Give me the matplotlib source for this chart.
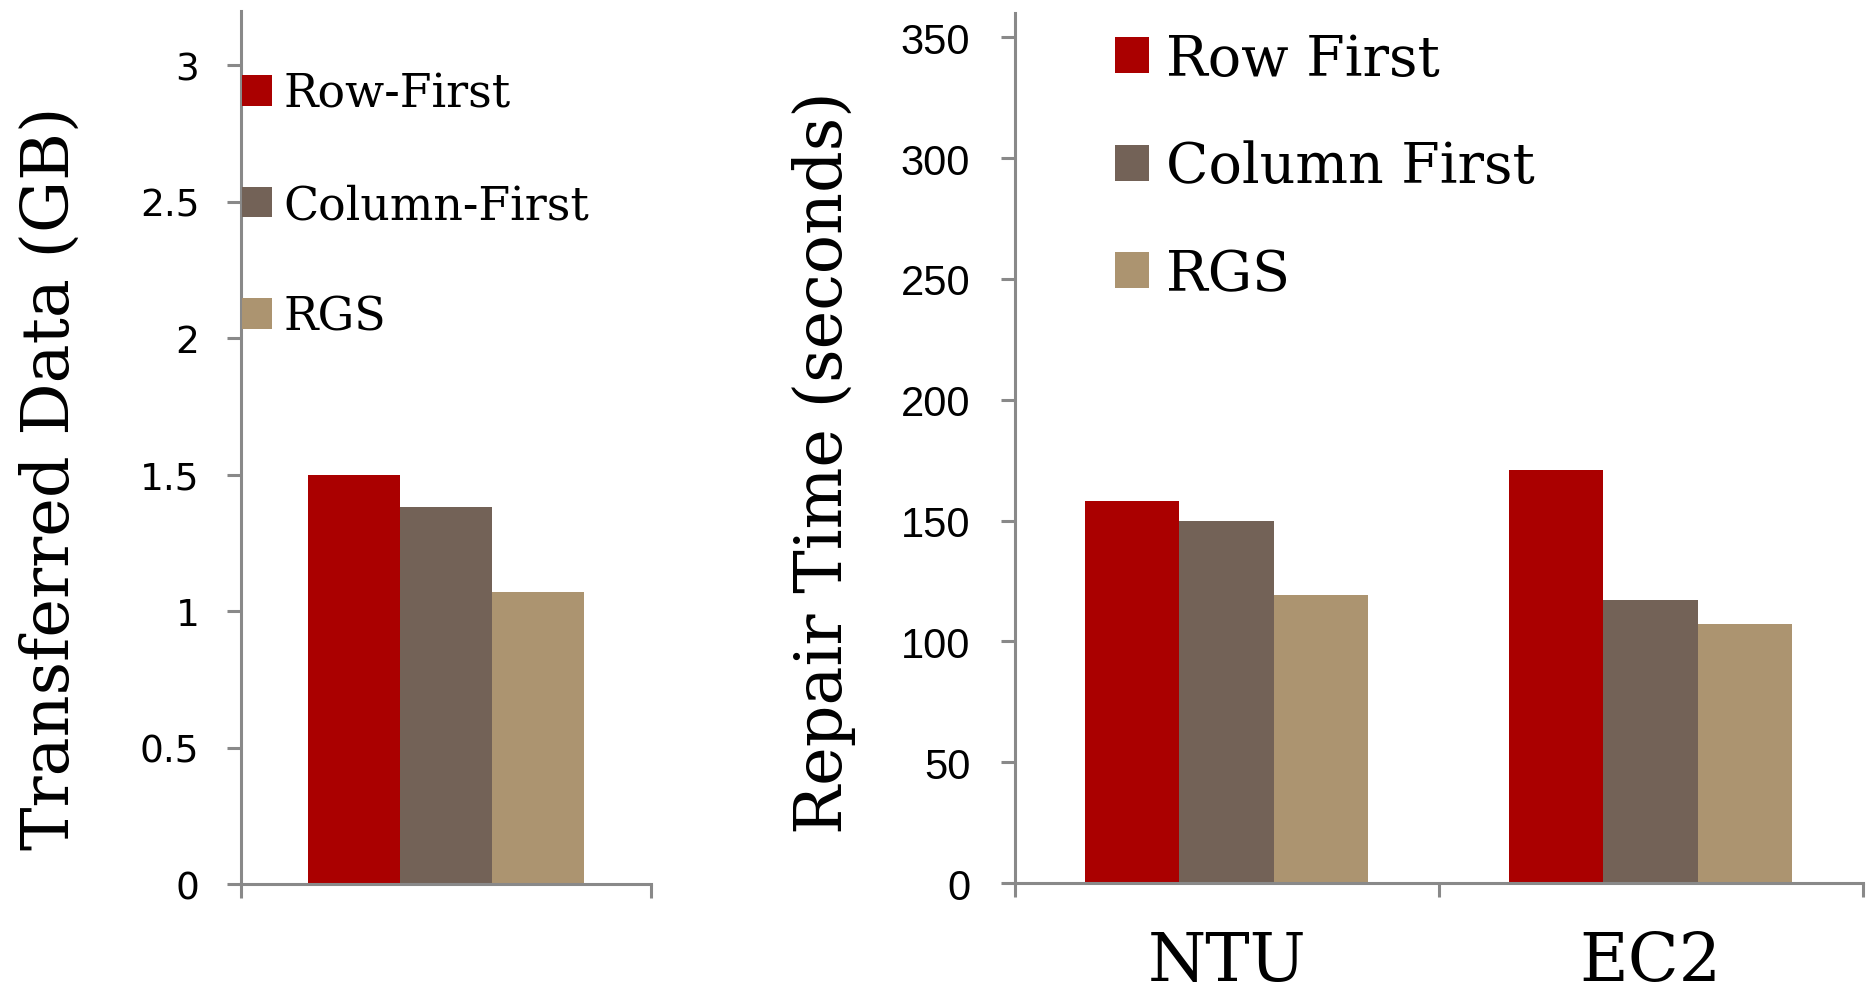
import numpy as np
import matplotlib
matplotlib.use("Agg")
from matplotlib import pyplot as plt

# data
series = ["Row-First", "Column-First", "RGS"]
series_right = ["Row First", "Column First", "RGS"]
colors = ["#AA0000", "#736257", "#AC9470"]

transferred_gb = [1.50, 1.38, 1.07]

sites = ["NTU", "EC2"]
repair_row = [158, 171]
repair_col = [150, 117]
repair_rgs = [119, 107]

serif = ["DejaVu Serif"]
spine_gray = "#898989"

fig = plt.figure(figsize=(18.72, 10.03), dpi=100)

# ---------------- left panel ----------------
ax1 = fig.add_axes([0.1287, 0.1176, 0.219, 0.8706])
w1 = 0.225
for i, (name, val) in enumerate(zip(series, transferred_gb)):
    ax1.bar(0 + (i - 1) * w1, val, w1, color=colors[i], label=name, linewidth=0)
ax1.set_xlim(-0.5, 0.5)
ax1.set_ylim(0, 3.2)
ax1.set_yticks([0, 0.5, 1, 1.5, 2, 2.5, 3])
ax1.set_yticklabels(["0", "0.5", "1", "1.5", "2", "2.5", "3"],
                    fontsize=27, family="DejaVu Sans")
ax1.set_xticks([-0.5, 0.5])
ax1.set_xticklabels([])
ax1.set_ylabel("Transferred Data (GB)", fontsize=47, family=serif)
ax1.yaxis.label.set_va("center")
ax1.yaxis.set_label_coords(-0.465, 0.466)
ax1.legend(loc="upper left", bbox_to_anchor=(0.002, 0.931), frameon=False,
           prop={"family": serif, "size": 33}, borderpad=0, borderaxespad=0,
           handlelength=0.66, handleheight=0.66, handletextpad=0.25,
           labelspacing=1.45)

# ---------------- right panel ----------------
ax2 = fig.add_axes([0.542, 0.1186, 0.453, 0.8674])
x = np.arange(len(sites))
w2 = 0.2225
for i, vals in enumerate([repair_row, repair_col, repair_rgs]):
    ax2.bar(x + (i - 1) * w2, vals, w2, color=colors[i], label=series_right[i], linewidth=0)
ax2.set_xlim(-0.5, 1.5)
ax2.set_ylim(0, 360)
ax2.set_yticks(np.arange(0, 351, 50))
ax2.set_yticklabels([str(v) for v in range(0, 351, 50)],
                    fontsize=30, family="Liberation Sans")
ax2.set_xticks([-0.5, 0.5, 1.5])
ax2.set_xticklabels([])
ax2.set_xticks(x, minor=True)
ax2.set_xticklabels(sites, minor=True, fontsize=48, family=serif)
ax2.tick_params(axis="x", which="minor", length=0, pad=33)
ax2.set_ylabel("Repair Time (seconds)", fontsize=47, family=serif)
ax2.yaxis.label.set_va("center")
ax2.yaxis.set_label_coords(-0.225, 0.484)
ax2.legend(loc="upper left", bbox_to_anchor=(0.118, 0.978), frameon=False,
           prop={"family": serif, "size": 40}, borderpad=0, borderaxespad=0,
           handlelength=0.62, handleheight=0.62, handletextpad=0.3,
           labelspacing=0.95)

for ax in (ax1, ax2):
    for s in ("top", "right"):
        ax.spines[s].set_visible(False)
    for s in ("left", "bottom"):
        ax.spines[s].set_color(spine_gray)
        ax.spines[s].set_linewidth(2.2)
    ax.tick_params(axis="y", direction="out", length=10, width=2.2,
                   color=spine_gray, pad=20)
    ax.tick_params(axis="x", which="major", direction="out", length=10,
                   width=2.2, color=spine_gray)

ax2.tick_params(axis="y", pad=22)

fig.savefig("out.png", dpi=100)
